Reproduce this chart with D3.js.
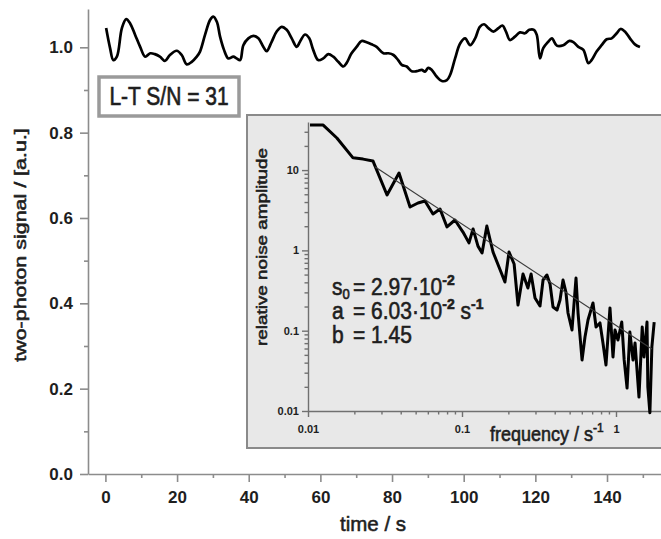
<!DOCTYPE html>
<html>
<head>
<meta charset="utf-8">
<script src="https://cdn.jsdelivr.net/npm/d3@7"></script>
<style>
  body { margin: 0; background: #fff; }
  svg { display: block; font-family: "Liberation Sans", Arial, sans-serif; }
  .heavy { stroke: #1e1e1e; stroke-width: 0.55px; }
</style>
</head>
<body>
<svg id="chart"></svg>
<script>
// main trace (time in s, signal in a.u.)
const timeS = [
  0.2, 1.3, 2.2, 3.2, 4.6, 5.8, 6.9, 8.3, 9.7, 11.1,
  12.5, 13.8, 15.2, 16.6, 18.0, 19.9, 21.3, 22.7, 24.1, 25.5,
  26.4, 27.8, 29.2, 30.1, 31.1, 32.0, 33.1, 34.3, 35.7, 36.6,
  37.6, 38.5, 39.9, 41.3, 42.7, 44.1, 45.0, 46.4, 47.8, 49.2,
  50.6, 52.0, 53.4, 54.3, 55.7, 56.9, 58.0, 59.4, 60.8, 62.2,
  63.6, 65.0, 66.4, 67.3, 68.7, 70.1, 71.5, 72.9, 74.3, 75.7,
  77.6, 79.0, 80.4, 81.7, 82.7, 84.1, 85.5, 86.9, 88.3, 89.2,
  90.1, 91.1, 92.5, 93.9, 95.3, 96.2, 97.6, 99.0, 100.4, 101.8,
  103.2, 104.5, 105.7, 106.9, 108.3, 109.7, 110.8, 111.8, 112.9, 114.3,
  115.7, 117.1, 118.3, 119.6, 120.4, 121.3, 122.2, 123.6, 124.6, 126.0,
  127.8, 129.5, 130.6, 132.0, 133.4, 134.8, 135.7, 137.1, 138.5, 139.9,
  141.3, 142.7, 143.8, 145.0, 146.4, 147.8, 149.2
];
const signal = [
  1.045, 0.998, 0.970, 0.978, 1.045, 1.066, 1.056, 1.029, 1.001, 0.978,
  0.986, 0.984, 0.978, 0.968, 0.982, 0.992, 0.982, 0.960, 0.966, 0.978,
  0.990, 1.029, 1.064, 1.072, 1.060, 1.025, 0.994, 0.974, 0.978, 0.974,
  0.970, 1.005, 1.021, 1.027, 1.021, 1.001, 0.991, 1.013, 1.037, 1.048,
  1.041, 1.021, 1.001, 1.013, 1.030, 1.021, 0.994, 0.970, 0.974, 0.984,
  0.978, 0.966, 0.955, 0.963, 0.986, 1.001, 1.015, 1.012, 1.007, 1.001,
  0.986, 0.986, 0.982, 0.970, 0.959, 0.955, 0.944, 0.944, 0.947, 0.943,
  0.952, 0.947, 0.931, 0.921, 0.923, 0.935, 0.974, 1.009, 1.021, 1.005,
  1.021, 1.048, 1.054, 1.045, 1.037, 1.045, 1.051, 1.037, 1.017, 1.025,
  1.035, 1.033, 1.041, 1.041, 1.029, 0.974, 0.998, 1.013, 1.021, 1.004,
  1.005, 1.015, 1.012, 1.001, 0.994, 0.963, 0.970, 0.990, 1.005, 1.019,
  1.021, 1.033, 1.043, 1.037, 1.021, 1.007, 1.001
];

// inset noise spectrum (frequency in 1/s, relative amplitude)
const freq = [
  0.0103, 0.0125, 0.0154, 0.0196, 0.0228, 0.0264, 0.0326, 0.0390, 0.0460, 0.0518,
  0.0575, 0.0648, 0.0720, 0.0799, 0.0900, 0.1015, 0.111, 0.118, 0.127, 0.135,
  0.145, 0.159, 0.177, 0.190, 0.202, 0.218, 0.231, 0.249, 0.268, 0.281,
  0.298, 0.321, 0.336, 0.356, 0.373, 0.390, 0.414, 0.433, 0.453, 0.473,
  0.488, 0.518, 0.550, 0.567, 0.602, 0.629, 0.658, 0.709, 0.742, 0.787,
  0.823, 0.861, 0.914, 0.956, 0.985, 1.03, 1.09, 1.13, 1.18, 1.23,
  1.29, 1.33, 1.41, 1.48, 1.52, 1.59, 1.61, 1.66, 1.71, 1.77
];
const amp = [
  36.5, 36.5, 25.1, 14.2, 13.7, 13.0, 4.90, 9.20, 3.47, 3.89,
  4.12, 2.84, 3.28, 1.96, 2.39, 1.69, 1.24, 1.85, 1.13, 0.929,
  2.01, 0.955, 0.570, 0.404, 0.955, 0.677, 0.209, 0.508, 0.340, 0.508,
  0.255, 0.203, 0.428, 0.494, 0.382, 0.197, 0.181, 0.241, 0.428, 0.303,
  0.166, 0.102, 0.453, 0.166, 0.0432, 0.0835, 0.136, 0.221, 0.111, 0.125,
  0.0703, 0.0374, 0.192, 0.0470, 0.102, 0.0766, 0.128, 0.0432, 0.0193, 0.0964,
  0.0432, 0.0703, 0.0149, 0.111, 0.0470, 0.128, 0.0199, 0.0095, 0.0627, 0.128
];
// straight fit line in the inset
const fitFreq = [0.0272, 1.71];
const fitAmp = [11.0, 0.0592];

const xMajor = [0, 20, 40, 60, 80, 100, 120, 140];
const xMinor = [10, 30, 50, 70, 90, 110, 130, 150];
const yMajor = [0, 0.2, 0.4, 0.6, 0.8, 1.0];
const yMinor = [0.1, 0.3, 0.5, 0.7, 0.9];
const fMajor = [0.01, 0.1, 1];
const fMinor = [0.02, 0.03, 0.04, 0.05, 0.06, 0.07, 0.08, 0.09, 0.2, 0.3, 0.4, 0.5, 0.6, 0.7, 0.8, 0.9];
const aMajor = [0.01, 0.1, 1, 10];
const aMinor = [0.02, 0.03, 0.04, 0.05, 0.06, 0.07, 0.08, 0.09, 0.2, 0.3, 0.4, 0.5, 0.6, 0.7, 0.8, 0.9,
                2, 3, 4, 5, 6, 7, 8, 9, 20, 30];

const W = 661, H = 539;
const axisGray = '#8c8c8c';
const ink = '#1e1e1e';

const svg = d3.select('#chart').attr('width', W).attr('height', H);
svg.append('rect').attr('width', W).attr('height', H).attr('fill', '#fff');

// main scales
const x = d3.scaleLinear().domain([-4.86, 155.07]).range([88, W]);
const y = d3.scaleLinear().domain([0, 1.0898]).range([474, 9]);

function styleAxis(g, color, width) {
  g.selectAll('path, line').attr('stroke', color).attr('stroke-width', width);
}

// x axis
const gx = svg.append('g').attr('transform', 'translate(0,474)')
  .call(d3.axisBottom(x).tickValues(xMajor).tickSize(8).tickSizeOuter(0).tickPadding(9).tickFormat(d3.format('d')));
gx.selectAll('text').attr('font-size', 17).attr('font-weight', 'bold').attr('fill', ink);
styleAxis(gx, axisGray, 1.6);
const gx2 = svg.append('g').attr('transform', 'translate(0,474)')
  .call(d3.axisBottom(x).tickValues(xMinor).tickSize(4).tickFormat(''));
gx2.select('.domain').remove();
styleAxis(gx2, axisGray, 1.6);

// y axis
const gy = svg.append('g').attr('transform', 'translate(88,0)')
  .call(d3.axisLeft(y).tickValues(yMajor).tickSize(8).tickSizeOuter(0).tickPadding(7).tickFormat(d3.format('.1f')));
gy.selectAll('text').attr('font-size', 17).attr('font-weight', 'bold').attr('fill', ink);
styleAxis(gy, axisGray, 1.6);
const gy2 = svg.append('g').attr('transform', 'translate(88,0)')
  .call(d3.axisLeft(y).tickValues(yMinor).tickSize(4).tickFormat(''));
gy2.select('.domain').remove();
styleAxis(gy2, axisGray, 1.6);

// axis titles
svg.append('text').attr('class', 'heavy').attr('transform', 'translate(373,531)')
  .attr('text-anchor', 'middle').attr('font-size', 20.5).attr('fill', ink).text('time / s');
svg.append('text').attr('class', 'heavy').attr('transform', 'translate(26,245) rotate(-90) scale(1.3,1)')
  .attr('text-anchor', 'middle').attr('font-size', 16.5).attr('fill', ink).text('two-photon signal / [a.u.]');

// main trace
const trace = timeS.map((t, i) => ({ t: t, v: signal[i] }));
svg.append('path').datum(trace)
  .attr('fill', 'none').attr('stroke', '#000').attr('stroke-width', 2.7).attr('stroke-linejoin', 'round')
  .attr('d', d3.line().x(d => x(d.t)).y(d => y(d.v)).curve(d3.curveCatmullRom));

// S/N box
svg.append('rect').attr('x', 99).attr('y', 77).attr('width', 140).attr('height', 39)
  .attr('fill', '#fff').attr('stroke', '#9a9a9a').attr('stroke-width', 3.5);
svg.append('text').attr('class', 'heavy').attr('transform', 'translate(169,105) scale(1,1.2)')
  .attr('text-anchor', 'middle').attr('font-size', 21).attr('fill', ink).text('L-T S/N = 31');

// ---- inset ----
svg.append('rect').attr('x', 247).attr('y', 115).attr('width', 430).attr('height', 333)
  .attr('fill', '#e8e8e8').attr('stroke', '#8a8a8a').attr('stroke-width', 2);

const fx = d3.scaleLog().domain([0.01, 1.96]).range([308, W]);
const fy = d3.scaleLog().domain([0.01, 39.7]).range([411, 122]);
const insetFmt = d => d >= 1 ? String(d) : d3.format('.2~f')(d);

const ix = svg.append('g').attr('transform', 'translate(0,411)')
  .call(d3.axisBottom(fx).tickValues(fMajor).tickSize(6).tickSizeOuter(0).tickPadding(8).tickFormat(insetFmt));
ix.selectAll('text').attr('font-size', 11).attr('font-weight', 'bold').attr('fill', ink);
styleAxis(ix, '#707070', 1.4);
const ix2 = svg.append('g').attr('transform', 'translate(0,411)')
  .call(d3.axisBottom(fx).tickValues(fMinor).tickSize(3.5).tickFormat(''));
ix2.select('.domain').remove();
styleAxis(ix2, '#707070', 1.4);

const iy = svg.append('g').attr('transform', 'translate(308,0)')
  .call(d3.axisLeft(fy).tickValues(aMajor).tickSize(6).tickSizeOuter(0).tickPadding(3).tickFormat(insetFmt));
iy.selectAll('text').attr('font-size', 11).attr('font-weight', 'bold').attr('fill', ink);
styleAxis(iy, '#707070', 1.4);
const iy2 = svg.append('g').attr('transform', 'translate(308,0)')
  .call(d3.axisLeft(fy).tickValues(aMinor).tickSize(3.5).tickFormat(''));
iy2.select('.domain').remove();
styleAxis(iy2, '#707070', 1.4);

// inset titles
svg.append('text').attr('class', 'heavy').attr('transform', 'translate(267,247) rotate(-90) scale(1.3,1)')
  .attr('text-anchor', 'middle').attr('font-size', 14.5).attr('fill', ink).text('relative noise amplitude');
const ft = svg.append('text').attr('class', 'heavy').attr('transform', 'translate(490,441) scale(1,1.1)')
  .attr('font-size', 18).attr('fill', ink);
ft.append('tspan').text('frequency / s');
ft.append('tspan').attr('font-size', 12).attr('dy', -8).text('-1');

// spectrum and fit
const spec = freq.map((f, i) => ({ f: f, a: amp[i] }));
svg.append('path').datum(spec)
  .attr('fill', 'none').attr('stroke', '#000').attr('stroke-width', 3).attr('stroke-linejoin', 'round')
  .attr('d', d3.line().x(d => fx(d.f)).y(d => fy(d.a)));
const fit = fitFreq.map((f, i) => ({ f: f, a: fitAmp[i] }));
svg.append('path').datum(fit)
  .attr('fill', 'none').attr('stroke', '#3a3a3a').attr('stroke-width', 1.1)
  .attr('d', d3.line().x(d => fx(d.f)).y(d => fy(d.a)));

// fit parameters
const params = [
  { name: 's', sub: '0', val: '2.97·10', sup: '-2', unit: '', usup: '' },
  { name: 'a', sub: '', val: '6.03·10', sup: '-2', unit: ' s', usup: '-1' },
  { name: 'b', sub: '', val: '1.45', sup: '', unit: '', usup: '' }
];
const pg = svg.append('g').attr('fill', ink);
params.forEach((p, i) => {
  const t = pg.append('text').attr('class', 'heavy')
    .attr('transform', `translate(332,${295 + i * 24}) scale(1,1.1)`)
    .attr('font-size', 21);
  t.append('tspan').text(p.name);
  if (p.sub) t.append('tspan').attr('font-size', 13).attr('dy', 4).text(p.sub);
  t.append('tspan').attr('x', 21).attr('dy', p.sub ? -4 : 0).text('= ' + p.val);
  if (p.sup) t.append('tspan').attr('font-size', 14).attr('font-weight', 'bold').attr('dy', -9).text(p.sup);
  if (p.unit) t.append('tspan').attr('dy', 9).text(p.unit);
  if (p.usup) t.append('tspan').attr('font-size', 14).attr('font-weight', 'bold').attr('dy', -9).text(p.usup);
});
</script>
</body>
</html>
